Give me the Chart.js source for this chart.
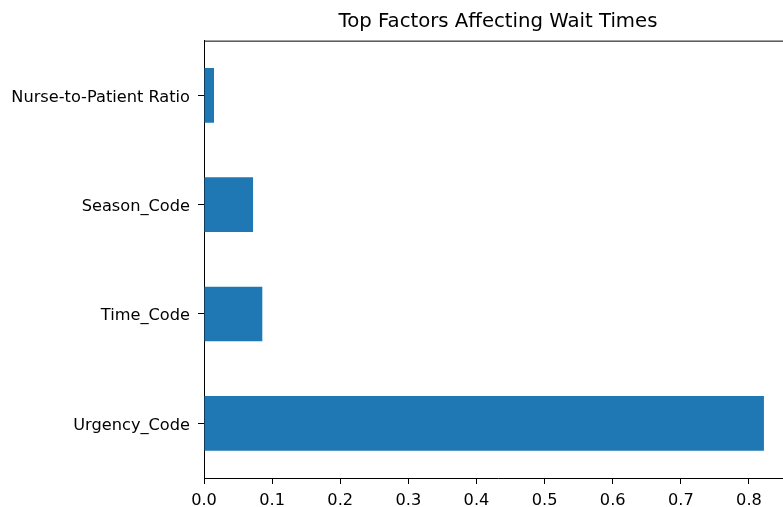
<!DOCTYPE html>
<html>
<head>
<meta charset="utf-8">
<script src="https://cdn.jsdelivr.net/npm/chart.js@4.4.1/dist/chart.umd.min.js"></script>
<style>
  html, body { margin: 0; padding: 0; background: #fff; overflow: hidden; }
  #wrap { width: 800px; height: 507px; }
</style>
</head>
<body>
<div id="wrap"><canvas id="chart" width="800" height="507"></canvas></div>
<script>
// ── DATA ─────────────────────────────────────
const factors = ['Nurse-to-Patient Ratio', 'Season_Code', 'Time_Code', 'Urgency_Code'];
const importance = [0.0147, 0.072, 0.0856, 0.822];
const xMax = 0.8632;

const FONT = "'DejaVu Sans', sans-serif";

// draws the top/right spines like matplotlib
const spines = {
  id: 'spines',
  afterDraw(chart) {
    const { ctx: c, chartArea: a } = chart;
    c.save();
    c.strokeStyle = '#000';
    c.lineWidth = 1;
    c.beginPath();
    c.moveTo(a.left, a.top + 0.5);
    c.lineTo(a.right, a.top + 0.5);
    c.lineTo(a.right, a.bottom);
    c.stroke();
    c.restore();
  }
};

new Chart(document.getElementById('chart'), {
  type: 'bar',
  data: {
    labels: factors,
    datasets: [{
      data: importance,
      backgroundColor: '#1f77b4',
      borderWidth: 0,
      barPercentage: 0.5,
      categoryPercentage: 1.0
    }]
  },
  options: {
    indexAxis: 'y',
    responsive: false,
    animation: false,
    layout: { padding: { left: 0, right: 8, top: 0, bottom: 0 } },
    plugins: {
      legend: { display: false },
      tooltip: { enabled: false },
      title: {
        display: true,
        fullSize: false,
        text: 'Top Factors Affecting Wait Times',
        color: '#000',
        font: { family: FONT, size: 19.7, weight: 'normal', lineHeight: 1.2 },
        padding: { top: 10, bottom: 7 }
      }
    },
    scales: {
      x: {
        min: 0, max: xMax,
        grid: { drawOnChartArea: false, drawTicks: true, tickLength: 6, color: '#000', tickColor: '#000' },
        border: { display: true, color: '#000', width: 1 },
        ticks: {
          stepSize: 0.1, includeBounds: false, padding: 7,
          color: '#000', font: { family: FONT, size: 16.2 },
          maxRotation: 0,
          callback: v => Number(v).toFixed(1)
        },
        afterFit: s => { s.height = 29; }
      },
      y: {
        offset: true,
        grid: { drawOnChartArea: false, drawTicks: true, tickLength: 6, color: '#000', tickColor: '#000', offset: false },
        border: { display: true, color: '#000', width: 1 },
        ticks: { padding: 8, labelOffset: 2, color: '#000', font: { family: FONT, size: 16.2 } },
        afterFit: s => { s.width = 204; }
      }
    }
  },
  plugins: [spines]
});
</script>
</body>
</html>
